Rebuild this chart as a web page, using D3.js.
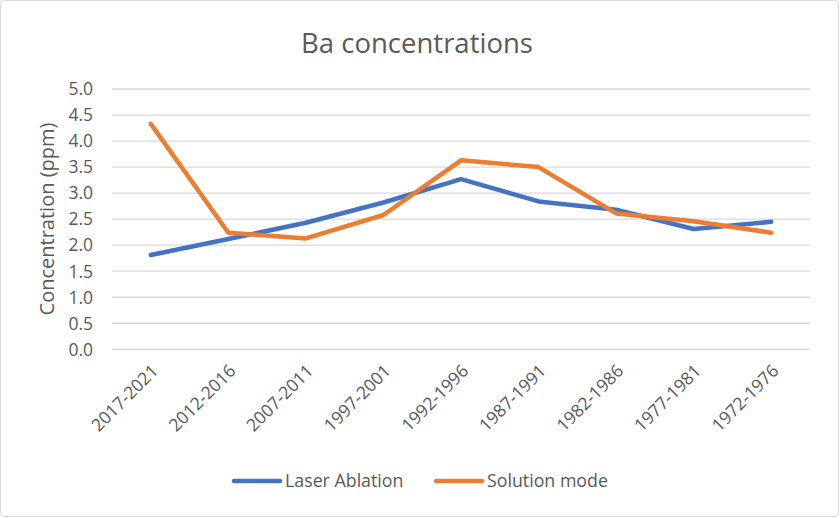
<!DOCTYPE html>
<html><head><meta charset="utf-8">
<script src="https://cdn.jsdelivr.net/npm/d3@7"></script>
<style>body{margin:0;background:#fff}svg{display:block}text{font-family:"Open Sans",sans-serif;fill:#595959}</style>
</head><body>
<svg id="c" width="840" height="518"></svg>
<script>
const categories = ["2017-2021","2012-2016","2007-2011","1997-2001","1992-1996","1987-1991","1982-1986","1977-1981","1972-1976"];
const laserAblation = [1.81, 2.12, 2.43, 2.82, 3.27, 2.84, 2.68, 2.31, 2.45];
const solutionMode = [4.33, 2.24, 2.13, 2.58, 3.63, 3.50, 2.61, 2.46, 2.24];
const yTicks = [0,0.5,1,1.5,2,2.5,3,3.5,4,4.5,5];
const seriesNames = ["Laser Ablation","Solution mode"];
const colors = ["#4472C4","#ED7D31"];

const svg = d3.select("#c");
svg.append("rect").attr("x",0.5).attr("y",0.5).attr("width",838).attr("height",516)
  .attr("rx",4).attr("fill","#fff").attr("stroke","#d9d9d9");

const x = d3.scaleBand().domain(categories).range([112,810]);
const y = d3.scaleLinear().domain([0,5]).range([349.3,89]);

svg.append("g").selectAll("line").data(yTicks).join("line")
  .attr("x1",112).attr("x2",810).attr("y1",d=>y(d)).attr("y2",d=>y(d))
  .attr("stroke","#d9d9d9").attr("stroke-width",1.3);

svg.append("g").selectAll("text").data(yTicks).join("text")
  .attr("x",93).attr("y",d=>y(d)).attr("dy","0.36em").attr("text-anchor","end")
  .attr("font-size",17.5).text(d=>d.toFixed(1));

svg.append("g").selectAll("text").data(categories).join("text")
  .attr("text-anchor","end").attr("font-size",17.5)
  .attr("transform",d=>`translate(${x(d)+x.bandwidth()/2+8.5},${372}) rotate(-45)`)
  .text(d=>d);

svg.append("text").attr("x",417).attr("y",43).attr("dy","0.35em").attr("text-anchor","middle")
  .attr("font-size",27.5).text("Ba concentrations");

svg.append("text").attr("transform","translate(47,219) rotate(-90)").attr("dy","0.35em")
  .attr("text-anchor","middle").attr("font-size",20).text("Concentration (ppm)");

const line = d3.line().x((d,i)=>x(categories[i])+x.bandwidth()/2).y(d=>y(d));
[laserAblation, solutionMode].forEach((s,i)=>{
  svg.append("path").datum(s).attr("d",line).attr("fill","none")
    .attr("stroke",colors[i]).attr("stroke-width",4.5)
    .attr("stroke-linejoin","round").attr("stroke-linecap","round");
});

const lg = [{x1:234,x2:280,tx:285},{x1:436,x2:482,tx:487}];
seriesNames.forEach((n,i)=>{
  svg.append("line").attr("x1",lg[i].x1).attr("x2",lg[i].x2).attr("y1",481).attr("y2",481)
    .attr("stroke",colors[i]).attr("stroke-width",4.5).attr("stroke-linecap","round");
  svg.append("text").attr("x",lg[i].tx).attr("y",481).attr("dy","0.35em").attr("font-size",17.8).text(n);
});
</script>
</body></html>
